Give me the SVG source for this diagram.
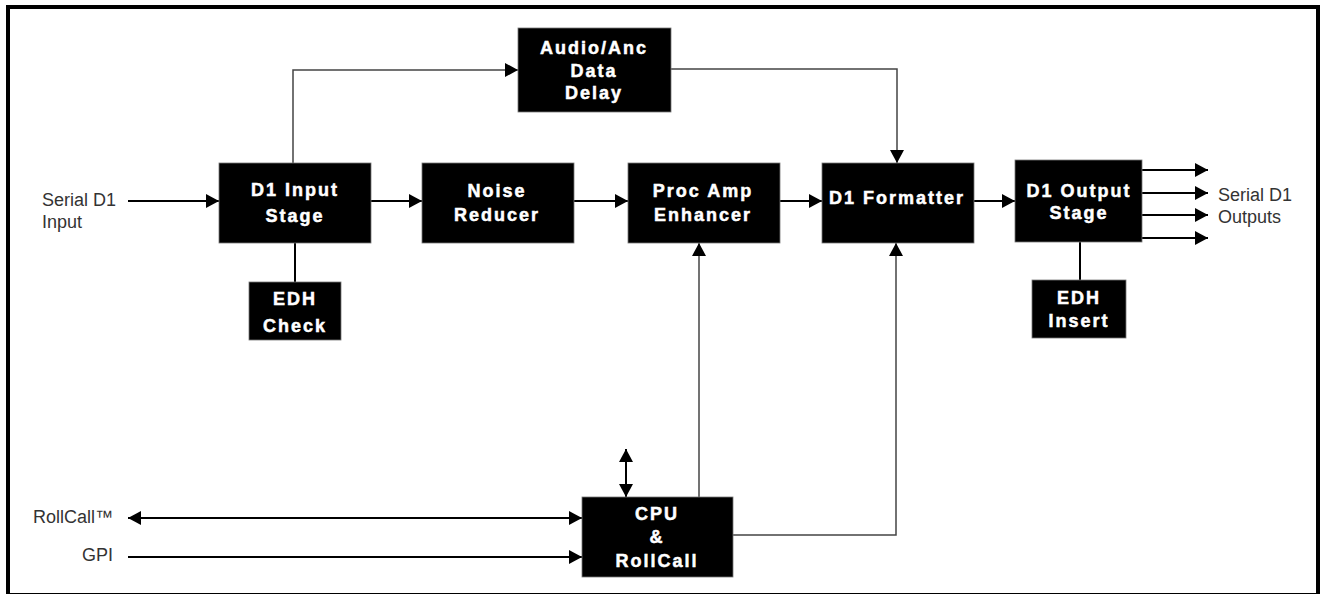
<svg xmlns="http://www.w3.org/2000/svg" width="1324" height="594" viewBox="0 0 1324 594">
<style>
.box{fill:#000;stroke:#777;stroke-width:0.8}
.bt{font-family:"Liberation Sans",Arial,sans-serif;font-weight:bold;font-size:18px;fill:#fff;letter-spacing:2px;text-anchor:middle;stroke:#fff;stroke-width:0.5}
.lbl{font-family:"Liberation Sans",Arial,sans-serif;font-size:18px;fill:#333}
.c{fill:none;stroke:#000;stroke-width:2}
.t{fill:none;stroke:#444;stroke-width:1.5}
</style>
<defs>
<marker id="ah" viewBox="0 0 13 14" refX="13" refY="7" markerWidth="13" markerHeight="14" markerUnits="userSpaceOnUse" orient="auto-start-reverse">
<path d="M0,0 L13,7 L0,14 z" fill="#000"/>
</marker>
</defs>
<rect x="8" y="7" width="1310" height="588" fill="#fff" stroke="#000" stroke-width="4"/>

<g id="connectors">
<path class="c" d="M128,201 H219" marker-end="url(#ah)"/>
<path class="c" d="M371,201 H422" marker-end="url(#ah)"/>
<path class="c" d="M574,201 H628" marker-end="url(#ah)"/>
<path class="c" d="M780,201 H822" marker-end="url(#ah)"/>
<path class="c" d="M974,201 H1015" marker-end="url(#ah)"/>
<path class="c" d="M1142,170 H1208" marker-end="url(#ah)"/>
<path class="c" d="M1142,193 H1208" marker-end="url(#ah)"/>
<path class="c" d="M1142,215 H1208" marker-end="url(#ah)"/>
<path class="c" d="M1142,238 H1208" marker-end="url(#ah)"/>
<path class="t" d="M293,163 V70 H518" marker-end="url(#ah)"/>
<path class="t" d="M671,69 H897 V163" marker-end="url(#ah)"/>
<path class="c" d="M295,243 V282"/>
<path class="c" d="M1080,242 V280"/>
<path class="t" d="M699,497 V243" marker-end="url(#ah)"/>
<path class="t" d="M733,535 H896 V243" marker-end="url(#ah)"/>
<path class="c" d="M626,449 V497" marker-start="url(#ah)" marker-end="url(#ah)"/>
<path class="c" d="M128,518 H582" marker-start="url(#ah)" marker-end="url(#ah)"/>
<path class="c" d="M128,557 H582" marker-end="url(#ah)"/>
</g>

<g id="audio-delay">
<rect class="box" x="518" y="28" width="153" height="84"/>
<text class="bt" x="594" y="54">Audio/Anc</text>
<text class="bt" x="594" y="77">Data</text>
<text class="bt" x="594" y="99">Delay</text>
</g>
<g id="d1-input-stage">
<rect class="box" x="219" y="163" width="152" height="80"/>
<text class="bt" x="295" y="196">D1 Input</text>
<text class="bt" x="295" y="222">Stage</text>
</g>
<g id="edh-check">
<rect class="box" x="249" y="282" width="92" height="58"/>
<text class="bt" x="295" y="305">EDH</text>
<text class="bt" x="295" y="332">Check</text>
</g>
<g id="noise-reducer">
<rect class="box" x="422" y="163" width="152" height="80"/>
<text class="bt" x="497" y="197">Noise</text>
<text class="bt" x="497" y="221">Reducer</text>
</g>
<g id="proc-amp">
<rect class="box" x="628" y="163" width="152" height="80"/>
<text class="bt" x="703" y="197">Proc Amp</text>
<text class="bt" x="703" y="221">Enhancer</text>
</g>
<g id="d1-formatter">
<rect class="box" x="822" y="163" width="152" height="80"/>
<text class="bt" x="897" y="204">D1 Formatter</text>
</g>
<g id="d1-output-stage">
<rect class="box" x="1015" y="160" width="127" height="82"/>
<text class="bt" x="1079" y="197">D1 Output</text>
<text class="bt" x="1079" y="219">Stage</text>
</g>
<g id="edh-insert">
<rect class="box" x="1032" y="280" width="94" height="58"/>
<text class="bt" x="1079" y="304">EDH</text>
<text class="bt" x="1079" y="327">Insert</text>
</g>
<g id="cpu">
<rect class="box" x="582" y="497" width="151" height="80"/>
<text class="bt" x="657" y="520">CPU</text>
<text class="bt" x="657" y="543">&amp;</text>
<text class="bt" x="657" y="567">RollCall</text>
</g>

<g id="labels">
<text class="lbl" x="42" y="206">Serial D1</text>
<text class="lbl" x="42" y="228">Input</text>
<text class="lbl" x="1218" y="201">Serial D1</text>
<text class="lbl" x="1218" y="223">Outputs</text>
<text class="lbl" x="113" y="523" text-anchor="end">RollCall™</text>
<text class="lbl" x="113" y="561" text-anchor="end">GPI</text>
</g>
</svg>
